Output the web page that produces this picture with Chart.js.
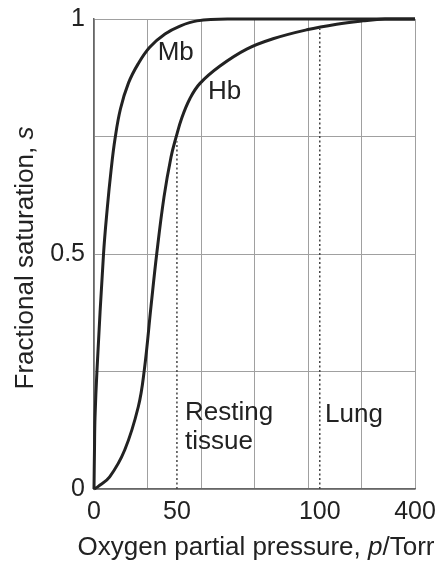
<!DOCTYPE html>
<html>
<head>
<meta charset="utf-8">
<script src="https://cdn.jsdelivr.net/npm/chart.js@4/dist/chart.umd.min.js"></script>
<style>
  html, body { margin: 0; padding: 0; background: #fff; }
  #wrap { width: 439px; height: 562px; position: relative; }
</style>
</head>
<body>
<div id="wrap"><canvas id="chart"></canvas></div>
<script>
// x is measured in grid cells along the (schematic, non-linear) pressure axis
const xTickPositions = [0, 1.55, 4.22, 6]
const xTickLabels = ["0", "50", "100", "400"]
const yTickLabels = { 0: "0", 0.5: "0.5", 1: "1" }

const mbX = [0, 0.009, 0.019, 0.056, 0.178, 0.247, 0.318, 0.393, 0.495, 0.645, 0.822, 1.041, 1.327, 1.607, 1.925, 2.542, 6]
const mbY = [0, 0.083, 0.153, 0.253, 0.500, 0.596, 0.677, 0.745, 0.809, 0.864, 0.904, 0.940, 0.968, 0.985, 0.996, 1, 1]

const hbX = [0, 0.075, 0.293, 0.574, 0.828, 0.940, 1.065, 1.172, 1.308, 1.439, 1.533, 1.639, 1.794, 1.981, 2.355, 2.854, 3.346, 3.976, 4.536, 5.028, 5.439, 6]
const hbY = [0, 0.005, 0.026, 0.083, 0.175, 0.253, 0.388, 0.500, 0.621, 0.706, 0.748, 0.789, 0.831, 0.863, 0.900, 0.936, 0.958, 0.977, 0.989, 0.996, 1, 1]

const restingX = 1.55
const restingTop = 0.74
const lungX = 4.22
const lungTop = 0.979

const toPoints = (xs, ys) => xs.map((x, i) => ({ x: x, y: ys[i] }))

const FONT = "'Liberation Sans', Arial, Helvetica, sans-serif"
const INK = "#222"
const GRID = "#a0a0a0"

// axis titles (with italic symbols) and the in-plot labels
const textPlugin = {
  id: "texts",
  afterDraw(chart) {
    const ctx = chart.ctx
    const xs = chart.scales.x
    const ys = chart.scales.y
    ctx.save()
    ctx.fillStyle = INK
    ctx.textBaseline = "alphabetic"
    ctx.textAlign = "left"

    const drawParts = (parts, cx, y) => {
      let total = 0
      parts.forEach(p => { ctx.font = p[1] + " 26px " + FONT; total += ctx.measureText(p[0]).width })
      let x = cx - total / 2
      parts.forEach(p => {
        ctx.font = p[1] + " 26px " + FONT
        ctx.fillText(p[0], x, y)
        x += ctx.measureText(p[0]).width
      })
    }

    drawParts([["Oxygen partial pressure, ", "normal"], ["p", "italic"], ["/Torr", "normal"]], 256, 555)

    ctx.save()
    ctx.translate(33, 258)
    ctx.rotate(-Math.PI / 2)
    drawParts([["Fractional saturation, ", "normal"], ["s", "italic"]], 0, 0)
    ctx.restore()

    ctx.font = "26px " + FONT
    const label = (t, u, s) => ctx.fillText(t, xs.getPixelForValue(u), ys.getPixelForValue(s))
    label("Mb", 1.19, 0.913)
    label("Hb", 2.13, 0.830)
    label("Resting", 1.70, 0.147)
    label("tissue", 1.70, 0.085)
    label("Lung", 4.32, 0.143)
    ctx.restore()
  }
}

const ctx = document.getElementById("chart").getContext("2d")
new Chart(ctx, {
  type: "scatter",
  data: {
    datasets: [
      {
        label: "Resting",
        data: toPoints([restingX, restingX], [0, restingTop]),
        showLine: true,
        borderColor: "#444",
        borderWidth: 1.5,
        borderDash: [2, 2.5],
        pointRadius: 0
      },
      {
        label: "Lung",
        data: toPoints([lungX, lungX], [0, lungTop]),
        showLine: true,
        borderColor: "#444",
        borderWidth: 1.5,
        borderDash: [2, 2.5],
        pointRadius: 0
      },
      {
        label: "Mb",
        data: toPoints(mbX, mbY),
        showLine: true,
        borderColor: INK,
        borderWidth: 3,
        pointRadius: 0,
        tension: 0.4,
        clip: false
      },
      {
        label: "Hb",
        data: toPoints(hbX, hbY),
        showLine: true,
        borderColor: INK,
        borderWidth: 3,
        pointRadius: 0,
        tension: 0.4,
        clip: false
      }
    ]
  },
  options: {
    responsive: true,
    maintainAspectRatio: false,
    animation: false,
    layout: { padding: { top: 19, right: 24, left: 0, bottom: 0 } },
    plugins: {
      legend: { display: false },
      tooltip: { enabled: false }
    },
    scales: {
      x: {
        type: "linear",
        min: 0,
        max: 6,
        afterBuildTicks: (scale) => {
          const vals = [0, 1, 2, 3, 4, 5, 6].concat(xTickPositions)
          scale.ticks = [...new Set(vals)].sort((a, b) => a - b).map(v => ({ value: v }))
        },
        afterFit: (scale) => {
          scale.height = 73
          scale.paddingLeft = 0
          scale.paddingRight = 0
        },
        grid: {
          drawTicks: false,
          color: (c) => Number.isInteger(c.tick && c.tick.value) ? GRID : "rgba(0,0,0,0)",
          lineWidth: 1
        },
        border: { color: "#666", width: 1.5 },
        ticks: {
          autoSkip: false,
          maxRotation: 0,
          padding: 8,
          color: INK,
          font: { family: FONT, size: 25 },
          callback: (v) => {
            const i = xTickPositions.indexOf(v)
            return i >= 0 ? xTickLabels[i] : ""
          }
        }
      },
      y: {
        type: "linear",
        min: 0,
        max: 1,
        afterFit: (scale) => {
          scale.width = 94
          scale.paddingTop = 0
          scale.paddingBottom = 0
        },
        grid: {
          drawTicks: false,
          color: GRID,
          lineWidth: 1
        },
        border: { color: "#666", width: 1.5 },
        ticks: {
          stepSize: 0.25,
          padding: 9,
          color: INK,
          font: { family: FONT, size: 25 },
          callback: (v) => yTickLabels[v] !== undefined ? yTickLabels[v] : ""
        }
      }
    }
  },
  plugins: [textPlugin]
})
</script>
</body>
</html>
